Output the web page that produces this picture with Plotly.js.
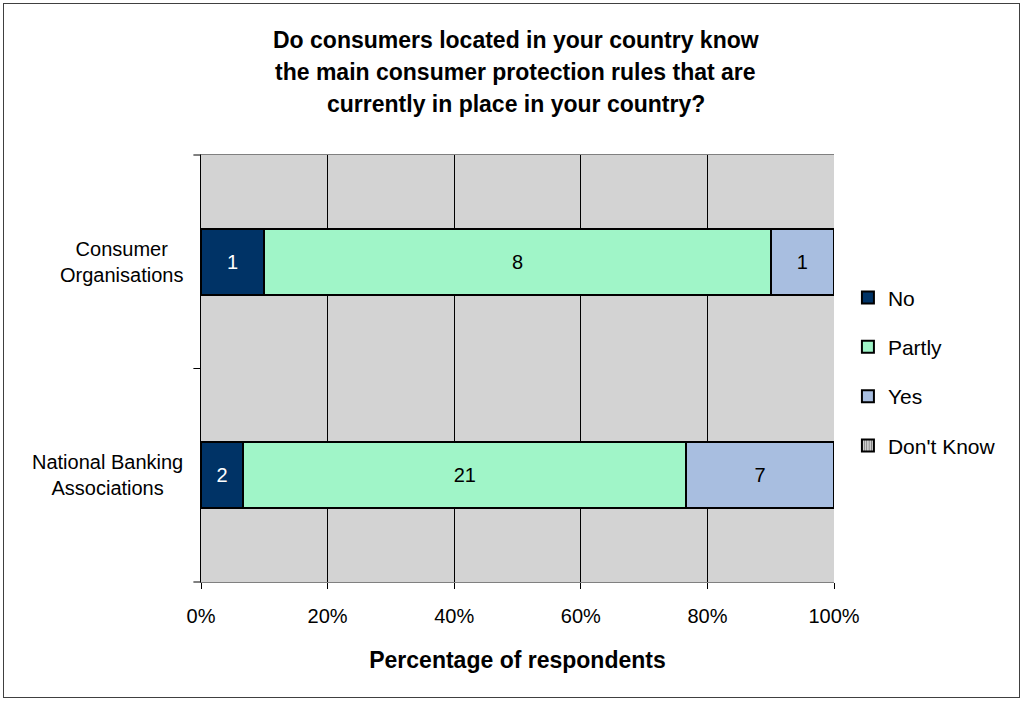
<!DOCTYPE html>
<html>
<head>
<meta charset="utf-8">
<script src="https://cdn.plot.ly/plotly-3.0.1.min.js"></script>
<style>
html,body{margin:0;padding:0;background:#fff;}
#wrap{position:relative;width:1024px;height:702px;}
#chart{position:absolute;left:0;top:0;width:1024px;height:702px;}
#frame{position:absolute;left:3px;top:3px;width:1015px;height:693px;border:1px solid #404040;pointer-events:none;}
</style>
</head>
<body>
<div id="wrap"><div id="chart"></div><div id="frame"></div></div>
<script>
const categories = ['National Banking<br>Associations', 'Consumer<br>Organisations'];
const seriesNames = ['No', 'Partly', 'Yes', "Don't Know"];
const noVals = [2, 1];
const partlyVals = [21, 8];
const yesVals = [7, 1];
const dontKnowVals = [0, 0];
const xTickVals = [0, 20, 40, 60, 80, 100];
const xTickText = ['0%', '20%', '40%', '60%', '80%', '100%'];
const titleLines = ['Do consumers located in your country know',
  'the main consumer protection rules that are',
  'currently in place in your country?'];

const colors = ['#003366', '#A0F5C8', '#A8BEE0', '#C8C8C8'];
const textColors = ['#ffffff', '#000000', '#000000', '#000000'];
const allVals = [noVals, partlyVals, yesVals, dontKnowVals];

const FONT = 'Liberation Sans, Arial, sans-serif';

const traces = allVals.map((vals, i) => ({
  type: 'bar',
  orientation: 'h',
  name: seriesNames[i],
  legendgroup: 'g' + i,
  y: categories,
  x: vals,
  width: 0.31,
  text: vals.map(v => v > 0 ? String(v) : ''),
  textposition: 'inside',
  insidetextanchor: 'middle',
  textangle: 0,
  textfont: {family: FONT, size: 20, color: textColors[i]},
  constraintext: 'none',
  hoverinfo: 'none',
  marker: {
    color: colors[i],
    line: {color: '#000000', width: 2},
    pattern: i === 3 ? {shape: '|', fgcolor: '#808080', bgcolor: '#D8D8D8', size: 3, solidity: 0.4} : undefined
  }
}));

const annotations = titleLines.map((t, k) => ({
  text: '<b>' + t + '</b>',
  xref: 'paper', yref: 'paper',
  x: 0.497, y: (582 - (40 + 32 * k)) / 427,
  xanchor: 'center', yanchor: 'middle',
  showarrow: false,
  font: {family: FONT, size: 23, color: '#000000'}
})).concat(categories.map(c => ({
  text: c,
  xref: 'paper', yref: 'y',
  x: -0.0253, y: c,
  xanchor: 'right', yanchor: 'middle',
  align: 'center',
  showarrow: false,
  font: {family: FONT, size: 20, color: '#000000'}
})));

const layout = {
  width: 1024, height: 702,
  margin: {l: 201, r: 190, t: 155, b: 120, pad: 0},
  paper_bgcolor: '#ffffff',
  plot_bgcolor: '#D3D3D3',
  barmode: 'stack',
  barnorm: 'percent',
  showlegend: true,
  legend: {
    x: 1.022, xanchor: 'left',
    y: 0.492, yanchor: 'middle',
    traceorder: 'grouped',
    tracegroupgap: 19,
    font: {family: FONT, size: 21, color: '#000000'},
    itemclick: false, itemdoubleclick: false,
    bgcolor: 'rgba(0,0,0,0)'
  },
  xaxis: {
    range: [0, 100],
    tickvals: xTickVals,
    ticktext: xTickText,
    ticks: 'outside', ticklen: 6, tickcolor: '#000',
    ticklabelstandoff: 10,
    showgrid: true, gridcolor: '#000000', gridwidth: 1,
    zeroline: false,
    showline: true, linecolor: '#808080', linewidth: 1, mirror: true,
    tickfont: {family: FONT, size: 20, color: '#000'},
    title: {text: '<b>Percentage of respondents</b>', font: {family: FONT, size: 23, color: '#000'}, standoff: 25},
    fixedrange: true
  },
  yaxis: {
    type: 'category',
    categoryorder: 'array',
    categoryarray: categories,
    range: [-0.5, 1.5],
    ticks: '', showgrid: false,
    showticklabels: false,
    zeroline: false,
    showline: true, linecolor: '#000000', linewidth: 1,
    fixedrange: true
  },
  shapes: [
    {type: 'line', xref: 'paper', yref: 'paper', x0: 0, x1: -0.012, y0: 0, y1: 0, line: {color: '#000', width: 1}},
    {type: 'line', xref: 'paper', yref: 'paper', x0: 0, x1: -0.012, y0: 0.5, y1: 0.5, line: {color: '#000', width: 1}},
    {type: 'line', xref: 'paper', yref: 'paper', x0: 0, x1: -0.012, y0: 1, y1: 1, line: {color: '#000', width: 1}}
  ],
  annotations: annotations,
  font: {family: FONT}
};

Plotly.newPlot('chart', traces, layout, {displayModeBar: false, staticPlot: true});
</script>
</body>
</html>
